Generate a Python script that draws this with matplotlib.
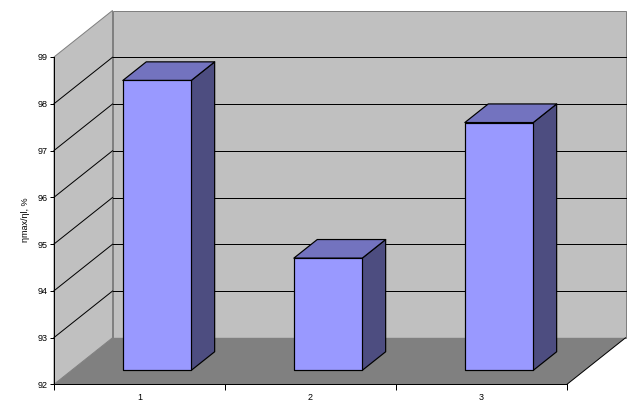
import matplotlib
matplotlib.use('Agg')
import matplotlib.pyplot as plt
from matplotlib.patches import Polygon
from matplotlib.transforms import Affine2D

categories = ['1', '2', '3']
values = [98.2, 94.4, 97.3]
y_ticks = [92, 93, 94, 95, 96, 97, 98, 99]
y_label = 'ηmax/ηl, %'

W, H = 642, 417
DEPTH_DX, DEPTH_DY = 58.5, 46.5  # pixels of the whole floor depth
BAR_D0, BAR_D1 = 0.30, 0.70      # bar front and back as a fraction of depth
BAR_W = 0.4
LW = 0.72                        # one pixel at dpi 100

WALL = '#c0c0c0'
FLOOR = '#808080'
EDGE_GREY = '#808080'
FRONT = '#9999ff'
TOP = '#7373bf'
SIDE = '#4d4d80'

fig = plt.figure(figsize=(W / 100, H / 100), dpi=100)
ax = fig.add_axes([54 / W, 1 - 384.3 / H, 513 / W, 327.3 / H])
ax.set_xlim(0, len(categories))
ax.set_ylim(y_ticks[0], y_ticks[-1])
ax.patch.set_visible(False)


def tr(depth):
    # data transform shifted backwards into the chart
    return ax.transData + Affine2D().translate(DEPTH_DX * depth, DEPTH_DY * depth)


def poly(points, depth_list, **kw):
    # each point gets its own depth, so project to pixels first
    xy = [tr(d).transform(pt) for pt, d in zip(points, depth_list)]
    p = Polygon(xy, closed=True, transform=None, clip_on=False, **kw)
    fig.add_artist(p)
    return p


def line(points, depth_list, **kw):
    # one artist per segment, straight ones snap to a single pixel row
    xy = [tr(d).transform(pt) for pt, d in zip(points, depth_list)]
    for a, b in zip(xy[:-1], xy[1:]):
        fig.add_artist(plt.Line2D([a[0], b[0]], [a[1], b[1]], transform=None, **kw))


x0, x1 = ax.get_xlim()
y0, y1 = ax.get_ylim()

# walls and floor
poly([(x0, y0), (x0, y0), (x0, y1), (x0, y1)], [0, 1, 1, 0], facecolor=WALL, edgecolor=EDGE_GREY, linewidth=LW, zorder=1)
poly([(x0, y0), (x1, y0), (x1, y1), (x0, y1)], [1, 1, 1, 1], facecolor=WALL, edgecolor=EDGE_GREY, linewidth=LW, zorder=1)
poly([(x0, y0), (x1, y0), (x1, y0), (x0, y0)], [0, 0, 1, 1], facecolor=FLOOR, edgecolor='none', zorder=2)

# gridlines on side wall and back wall, the top one has no black line
for v in y_ticks[1:-1]:
    line([(x0, v), (x0, v), (x1, v)], [0, 1, 1], color='black', linewidth=LW, zorder=3)

# floor edge at right
line([(x1, y0), (x1, y0)], [0, 1], color='black', linewidth=LW, zorder=3)

# bars
for i, v in enumerate(values):
    left = i + 0.5 - BAR_W / 2
    right = i + 0.5 + BAR_W / 2
    style = dict(edgecolor='black', linewidth=LW * 1.2, joinstyle='round', zorder=5)
    poly([(right, y0), (right, y0), (right, v), (right, v)], [BAR_D0, BAR_D1, BAR_D1, BAR_D0], facecolor=SIDE, **style)
    poly([(left, v), (right, v), (right, v), (left, v)], [BAR_D0, BAR_D0, BAR_D1, BAR_D1], facecolor=TOP, **style)
    poly([(left, y0), (right, y0), (right, v), (left, v)], [BAR_D0] * 4, facecolor=FRONT, **style)

# front axes
for name in ['top', 'right']:
    ax.spines[name].set_visible(False)
for name in ['left', 'bottom']:
    ax.spines[name].set_linewidth(LW)
    ax.spines[name].set_zorder(6)
ax.set_zorder(6)
ax.set_xticks(range(len(categories) + 1))
ax.set_xticklabels([])
ax.set_xticks([i + 0.5 for i in range(len(categories))], categories, minor=True, fontsize=6.5, family='Liberation Sans')
ax.tick_params(axis='x', which='major', length=4, width=LW, direction='out')
ax.tick_params(axis='x', which='minor', length=0, pad=6.5)
ax.set_yticks(y_ticks)
ax.set_yticklabels([str(v) for v in y_ticks], fontsize=6.5, family='Liberation Sans')
ax.tick_params(axis='y', length=3, width=LW, direction='out', pad=1.5)

fig.text(25 / W, 1 - 220 / H, y_label, rotation=90, ha='center', va='center', fontsize=6.5, family='Liberation Sans')

fig.savefig('out.png', dpi=100)
